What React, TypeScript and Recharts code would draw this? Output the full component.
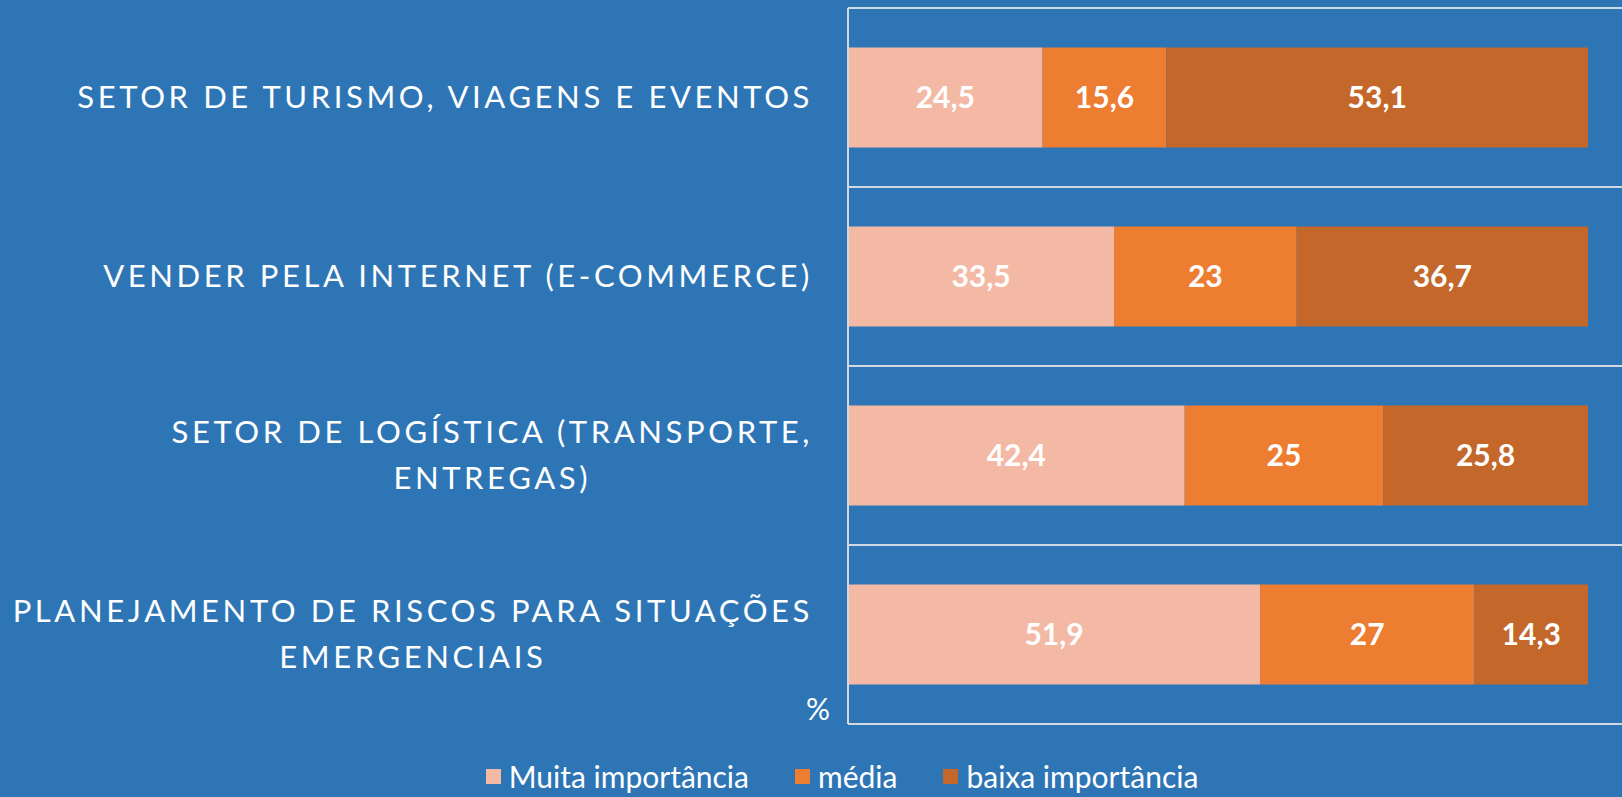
import { Bar, BarChart, CartesianGrid, LabelList, Legend, XAxis, YAxis } from "recharts"

// categorias (quebra de linha igual ao original)
const categories = [
  "SETOR DE TURISMO, VIAGENS E EVENTOS",
  "VENDER PELA INTERNET (E-COMMERCE)",
  "SETOR DE LOGÍSTICA (TRANSPORTE,\nENTREGAS)",
  "PLANEJAMENTO DE RISCOS PARA SITUAÇÕES\nEMERGENCIAIS",
]

const muita = [24.5, 33.5, 42.4, 51.9]
const media = [15.6, 23, 25, 27]
const baixa = [53.1, 36.7, 25.8, 14.3]

const seriesNames = ["Muita importância", "média", "baixa importância"]
const seriesColors = ["#F4B9A5", "#ED7D31", "#C4672A"]
const xDomain = [0, 100]
const unitLabel = "%"

const data = categories.map((name, i) => ({
  name,
  muita: muita[i],
  media: media[i],
  baixa: baixa[i],
}))

const FONT = "Lato, 'Open Sans', sans-serif"
const BG = "#2E75B6"
const GRID = "#D3D9E2"

const fmt = (v: any) => String(v).replace(".", ",")

function CategoryTick({ y, payload }: any) {
  return (
    <foreignObject x={0} y={y - 70} width={813} height={140}>
      <div
        style={{
          width: "100%",
          height: "100%",
          display: "flex",
          justifyContent: "flex-end",
          alignItems: "center",
        }}
      >
        <div
          style={{
            textAlign: "center",
            whiteSpace: "pre-line",
            fontFamily: FONT,
            fontSize: 31,
            lineHeight: "46px",
            letterSpacing: "3.6px",
            color: "#fff",
            marginTop: -4,
          }}
        >
          {payload.value}
        </div>
      </div>
    </foreignObject>
  )
}

function LegendContent({ payload }: any) {
  const items = [...(payload || [])].sort(
    (a: any, b: any) => seriesNames.indexOf(a.value) - seriesNames.indexOf(b.value)
  )
  return (
    <div
      style={{
        height: 73,
        display: "flex",
        justifyContent: "center",
        alignItems: "flex-end",
        paddingLeft: 62,
        paddingBottom: 4,
        boxSizing: "border-box",
      }}
    >
      {items.map((p: any, i: number) => (
        <div
          key={i}
          style={{
            display: "flex",
            alignItems: "center",
            marginRight: i < items.length - 1 ? 46 : 0,
            fontFamily: FONT,
            fontSize: 30,
            lineHeight: "34px",
            color: "#fff",
          }}
        >
          <span style={{ width: 15, height: 15, background: p.color, marginRight: 8, display: "inline-block" }} />
          {p.value}
        </div>
      ))}
    </div>
  )
}

export default function App() {
  return (
    <div
      style={{
        position: "fixed",
        left: 0,
        top: 0,
        width: 1622,
        height: 797,
        overflow: "hidden",
        background: BG,
      }}
    >
      <BarChart
        width={1660}
        height={797}
        data={data}
        layout="vertical"
        barCategoryGap="22%"
        margin={{ top: 8, right: 18, left: 0, bottom: 0 }}
      >
        <CartesianGrid
          vertical={false}
          stroke={GRID}
          strokeWidth={2}
          horizontalCoordinatesGenerator={({ offset }: any) =>
            [0, 1, 2, 3, 4].map((i) => offset.top + (i * offset.height) / 4)
          }
        />
        <XAxis type="number" domain={xDomain} hide />
        <YAxis
          type="category"
          dataKey="name"
          width={848}
          axisLine={{ stroke: GRID, strokeWidth: 2 }}
          tickLine={false}
          tick={<CategoryTick />}
          interval={0}
        />
        <Legend verticalAlign="bottom" content={<LegendContent />} wrapperStyle={{ left: 0, width: 1622 }} />
        <Bar dataKey="muita" name={seriesNames[0]} stackId="a" fill={seriesColors[0]} isAnimationActive={false}>
          <LabelList dataKey="muita" position="center" fill="#fff" fontFamily={FONT} fontWeight={700} fontSize={30} formatter={fmt} />
        </Bar>
        <Bar dataKey="media" name={seriesNames[1]} stackId="a" fill={seriesColors[1]} isAnimationActive={false}>
          <LabelList dataKey="media" position="center" fill="#fff" fontFamily={FONT} fontWeight={700} fontSize={30} formatter={fmt} />
        </Bar>
        <Bar dataKey="baixa" name={seriesNames[2]} stackId="a" fill={seriesColors[2]} isAnimationActive={false}>
          <LabelList dataKey="baixa" position="center" fill="#fff" fontFamily={FONT} fontWeight={700} fontSize={30} formatter={fmt} />
        </Bar>
      </BarChart>
      <div
        style={{
          position: "absolute",
          left: 806,
          top: 690,
          fontFamily: FONT,
          fontSize: 30,
          color: "#fff",
        }}
      >
        {unitLabel}
      </div>
    </div>
  )
}
